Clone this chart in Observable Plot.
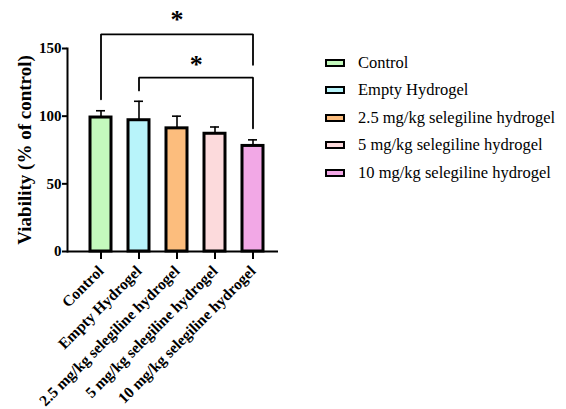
<!DOCTYPE html>
<html>
<head>
<meta charset="utf-8">
<script src="https://cdn.jsdelivr.net/npm/d3@7"></script>
<script src="https://cdn.jsdelivr.net/npm/@observablehq/plot@0.6"></script>
<style>
  html, body { margin: 0; padding: 0; background: #fff; }
  #wrap { position: relative; width: 566px; height: 409px; overflow: hidden; }
  #legend { position: absolute; left: 325px; top: 49px; font-family: "Liberation Serif", "Times New Roman", serif; font-size: 16.5px; color: #000; }
  .row { display: flex; align-items: center; height: 27.5px; }
  .sw { width: 16px; height: 4px; border: 2.5px solid #000; margin-right: 13px; }
  svg text { font-family: "Liberation Serif", "Times New Roman", serif; }
</style>
</head>
<body>
<div id="wrap"><div id="legend"></div></div>
<script>
const categories = ["Control", "Empty Hydrogel", "2.5 mg/kg selegiline hydrogel", "5 mg/kg selegiline hydrogel", "10 mg/kg selegiline hydrogel"];
const means = [99, 97, 91, 87, 78];
const errors = [5, 14, 9, 5, 4.5];
const colors = ["#c4f9bd", "#b8f4fa", "#fcbd7d", "#fcdadc", "#f2a8e6"];
const yTicks = [0, 50, 100, 150];
const yLabel = "Viability (% of control)";

// significance brackets (data space)
const bracket1 = [
  {x: categories[0], y: 112.5}, {x: categories[0], y: 160.5},
  {x: categories[4], y: 160.5}, {x: categories[4], y: 138}
];
const bracket2 = [
  {x: categories[1], y: 119}, {x: categories[1], y: 128.5},
  {x: categories[4], y: 128.5}, {x: categories[4], y: 91}
];
const stars = [
  {x: categories[2], y: 171, half: 0},
  {x: categories[2], y: 138, half: 1}
];

const data = categories.map((c, i) => ({cat: c, mean: means[i], hi: means[i] + errors[i], color: colors[i]}));

const pad = 0.451;
const xRange = [89.5, 263.5];
const step = (xRange[1] - xRange[0]) / (categories.length - pad);

const serif = "'Liberation Serif', 'Times New Roman', serif";

const plot = Plot.plot({
  width: 566,
  height: 409,
  marginLeft: 67,
  marginRight: 288,
  marginTop: 48,
  marginBottom: 158,
  style: {fontFamily: serif, background: "#fff", overflow: "visible"},
  x: {type: "band", domain: categories, range: xRange, paddingInner: pad, paddingOuter: 0, label: null},
  y: {domain: [0, 150], label: null},
  marks: [
    Plot.frame({anchor: "left", stroke: "#000", strokeWidth: 2}),
    Plot.ruleY([0], {stroke: "#000", strokeWidth: 2}),
    Plot.axisY({ticks: yTicks, tickSize: 5, tickPadding: 1, strokeWidth: 2, fontSize: 15, fontWeight: "bold", label: null, tickFormat: d => d}),
    Plot.axisX({tickSize: 8, tickPadding: 9, strokeWidth: 2, tickRotate: -45, fontSize: 15.5, fontWeight: "bold", label: null}),
    Plot.text([yLabel], {frameAnchor: "left", textAnchor: "middle", dx: -43, rotate: -90, fontSize: 19, fontWeight: "bold", fill: "#000"}),
    Plot.ruleX(data, {x: "cat", y1: "mean", y2: "hi", stroke: "#000", strokeWidth: 1.6}),
    Plot.tickY(data, {x: "cat", y: "hi", stroke: "#000", strokeWidth: 1.6, insetLeft: 6, insetRight: 6}),
    Plot.barY(data, {x: "cat", y: "mean", fill: "color", stroke: "#000", strokeWidth: 3}),
    Plot.line(bracket1, {x: "x", y: "y", stroke: "#000", strokeWidth: 1.8, strokeLinejoin: "miter", curve: "linear"}),
    Plot.line(bracket2, {x: "x", y: "y", stroke: "#000", strokeWidth: 1.8, strokeLinejoin: "miter", curve: "linear"}),
    Plot.text(stars.filter(d => !d.half), {x: "x", y: "y", text: () => "*", fontSize: 26, fontWeight: "bold", fill: "#000"}),
    Plot.text(stars.filter(d => d.half), {x: "x", y: "y", dx: step / 2, text: () => "*", fontSize: 26, fontWeight: "bold", fill: "#000"})
  ]
});
document.getElementById("wrap").prepend(plot);

const legend = document.getElementById("legend");
categories.forEach((c, i) => {
  const row = document.createElement("div");
  row.className = "row";
  const sw = document.createElement("div");
  sw.className = "sw";
  sw.style.background = colors[i];
  const t = document.createElement("span");
  t.textContent = c;
  row.append(sw, t);
  legend.append(row);
});
</script>
</body>
</html>
